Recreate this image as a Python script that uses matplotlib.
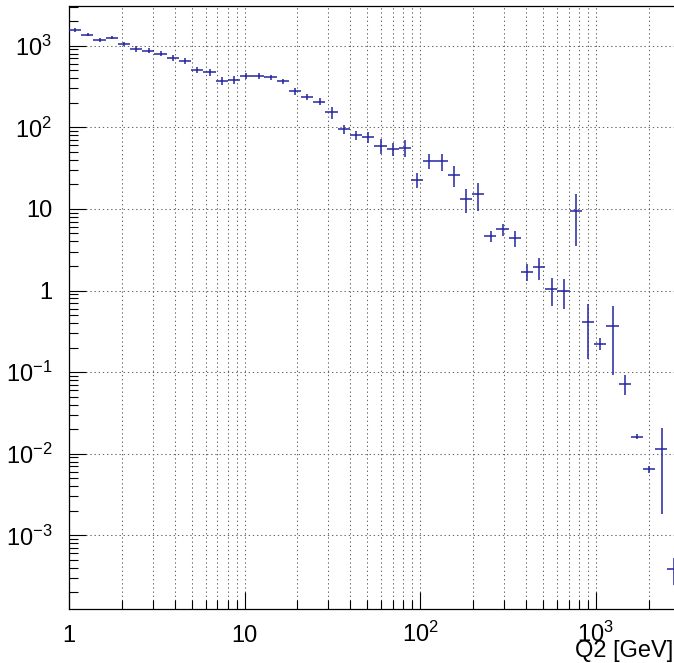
import numpy as np
import matplotlib
matplotlib.use("Agg")
import matplotlib.pyplot as plt
from matplotlib.ticker import LogLocator, FixedLocator, FuncFormatter, NullFormatter

plt.rcParams['font.family'] = 'Liberation Sans'
plt.rcParams['mathtext.fontset'] = 'custom'
plt.rcParams['mathtext.rm'] = 'Liberation Sans'
plt.rcParams['mathtext.default'] = 'regular'

# histogram binning: 50 log bins from 1 to 3000 GeV
q2_min, q2_max, n_bins = 1.0, 3000.0, 50

# bin contents and errors
counts = [1557, 1365, 1185, 1253, 1058, 911, 869, 798, 713, 655,
          508, 472, 373, 380, 426, 426, 413, 366, 275, 237,
          206, 153, 94.5, 80.5, 75.4, 59.0, 54.2, 56.2, 22.6, 39.0,
          38.3, 25.8, 13.1, 15.2, 4.66, 5.62, 4.36, 1.70, 1.93, 1.04,
          0.994, 9.35, 0.415, 0.223, 0.371, 0.0725, 0.01615, 0.00649, 0.01133, 3.86e-4]
errors = [80, 65, 60, 60, 55, 75, 60, 55, 60, 50,
          45, 45, 45, 40, 35, 35, 30, 30, 25, 20,
          19.5, 25, 12.3, 10.5, 11, 12, 10.3, 12.8, 4.7, 8.3,
          9.3, 7.3, 4.2, 5.8, 0.73, 0.93, 0.95, 0.40, 0.58, 0.39,
          0.40, 5.8, 0.27, 0.037, 0.28, 0.020, 0.0012, 0.00064, 0.0095, 1.43e-4]

x_ticks = [1, 10, 100, 1000]
y_ticks = [1e-3, 1e-2, 1e-1, 1, 10, 100, 1000]
x_title = "Q2 [GeV]"

edges = np.logspace(np.log10(q2_min), np.log10(q2_max), n_bins + 1)
centers = 0.5 * (edges[:-1] + edges[1:])
xerr = [centers - edges[:-1], edges[1:] - centers]

W, H = 674, 663
fig = plt.figure(figsize=(W / 100, H / 100), dpi=100)
# frame: left 69px, bottom 608.7px, top 6px, right edge falls just outside the image
ax = fig.add_axes([69 / W, (H - 608.7) / H, 610.6 / W, 602.7 / H])
ax.set_xscale('log')
ax.set_yscale('log')

ax.errorbar(centers, counts, xerr=xerr, yerr=errors, fmt='none',
            ecolor='#2424a0', elinewidth=1.1, capsize=0, zorder=3)

ax.set_xlim(q2_min, q2_max)
ax.set_ylim(1.262e-4, 3066)


def pow_label(v, pos):
    e = int(round(np.log10(v)))
    if e == 0:
        return '1'
    if e == 1:
        return '10'
    return r'$10^{%d}$' % e


ax.xaxis.set_major_locator(FixedLocator(x_ticks))
ax.yaxis.set_major_locator(FixedLocator(y_ticks))
for axis in (ax.xaxis, ax.yaxis):
    axis.set_minor_locator(LogLocator(base=10, subs=np.arange(2, 10), numticks=100))
    axis.set_major_formatter(FuncFormatter(pow_label))
    axis.set_minor_formatter(NullFormatter())

ax.tick_params(which='both', direction='in', top=False, right=False, width=0.8, colors='black')
ax.tick_params(which='major', length=12.5)
ax.tick_params(which='minor', length=6.5)
ax.tick_params(axis='x', which='major', pad=24, labelsize=17)
ax.tick_params(axis='y', which='major', pad=12, labelsize=17)
for t in ax.xaxis.get_major_ticks():
    t.label1.set_verticalalignment('baseline')

grid_kw = dict(color='0.4', linewidth=0.75, linestyle=(0, (1.3, 2.7)))
ax.grid(True, which='major', axis='both', **grid_kw)
ax.grid(True, which='minor', axis='x', **grid_kw)
ax.set_axisbelow(True)

for s in ax.spines.values():
    s.set_linewidth(0.9)

fig.text(673 / W, (H - 657) / H, x_title, ha='right', va='baseline', fontsize=17)

fig.savefig('out.png', dpi=100)
plt.close('all')
